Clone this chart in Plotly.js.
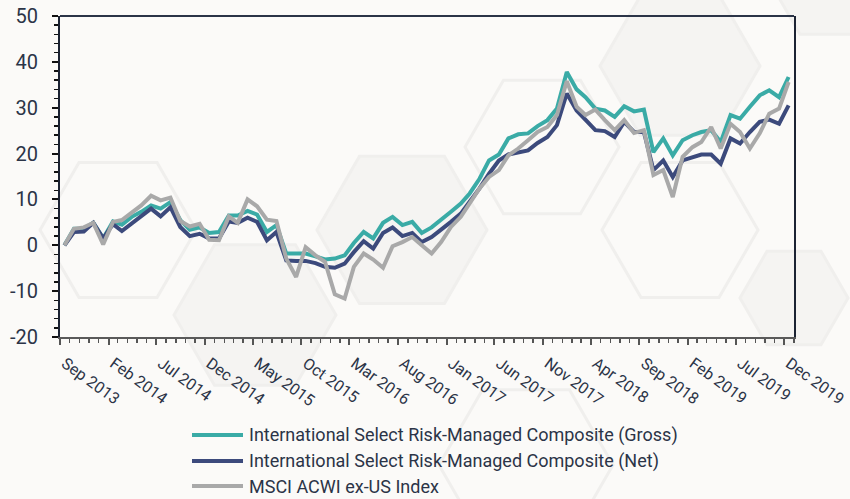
<!DOCTYPE html>
<html>
<head>
<meta charset="utf-8">
<script src="https://cdn.plot.ly/plotly-3.0.1.min.js"></script>
<style>
  html, body { margin: 0; padding: 0; background: #fbfaf8; }
  #chart { width: 850px; height: 499px; }
</style>
</head>
<body>
<div id="chart"></div>
<script>
// ---- Data (cumulative return, %) monthly Sep 2013 .. Dec 2019 ----
const startYear = 2013, startMonth = 9, nMonths = 76;
const tickLabels = ["Sep 2013","Feb 2014","Jul 2014","Dec 2014","May 2015","Oct 2015","Mar 2016","Aug 2016",
                    "Jan 2017","Jun 2017","Nov 2017","Apr 2018","Sep 2018","Feb 2019","Jul 2019","Dec 2019"];
const yTickVals = [-20, -10, 0, 10, 20, 30, 40, 50];
const yTickLabels = ["-20", "-10", "0", "10", "20", "30", "40", "50"];
const seriesNames = ["International Select Risk-Managed Composite (Gross)",
                     "International Select Risk-Managed Composite (Net)",
                     "MSCI ACWI ex-US Index"];
const gross = [0,3.6,3.6,4.9,1.5,5.2,4.5,6.2,7.3,8.7,8.0,9.4,5.5,3.4,3.9,2.7,2.9,6.5,6.5,7.5,
               6.7,2.9,4.4,-1.8,-1.8,-1.8,-2.4,-3.1,-2.9,-2.2,0.5,2.9,1.5,4.9,6.2,4.4,5.1,2.7,3.9,5.5,
               7.3,9.1,11.3,14.5,18.5,19.8,23.3,24.2,24.4,26.0,27.3,29.8,37.8,34.0,32.3,29.8,29.4,28.0,30.3,29.2,
               29.6,20.3,23.3,19.6,22.9,24.0,24.7,25.1,22.5,28.4,27.6,30.2,32.7,33.8,32.3,36.7];
const net   = [0,2.9,3.0,4.9,1.5,4.6,3.1,4.7,6.2,8.0,6.3,8.3,4.0,2.0,2.5,1.5,1.5,5.2,4.9,6.0,
               5.1,1.1,2.9,-3.3,-3.4,-3.4,-3.9,-4.7,-4.9,-4.0,-1.5,0.9,-0.7,2.7,3.9,2.0,2.7,0.7,1.8,3.3,
               5.1,6.9,9.4,12.4,15.6,18.5,19.8,20.3,20.7,22.3,23.6,26.2,33.1,29.4,27.3,25.1,24.9,23.6,26.9,24.7,
               24.7,16.4,18.5,14.9,18.5,19.3,19.8,19.8,17.8,23.3,22.2,24.7,26.9,27.4,26.5,30.5];
const msci  = [0,3.6,3.9,4.9,0.2,5.1,5.5,7.0,8.7,10.8,9.8,10.4,5.3,4.1,4.7,1.2,1.1,6.3,4.9,10.0,
               8.5,5.6,5.3,-2.9,-6.9,-0.4,-2.2,-3.6,-10.7,-11.6,-4.7,-1.8,-3.1,-4.9,-0.2,0.7,1.8,0,-1.8,0.7,
               4.0,6.2,9.1,12.4,14.9,16.4,19.6,21.1,22.9,24.7,25.8,28.4,35.8,30.2,28.4,29.6,27.3,25.1,27.3,24.5,
               25.1,15.3,16.4,10.5,19.3,21.4,22.5,25.8,21.1,26.5,24.7,21.1,24.4,28.7,29.8,35.6];
const colors = ["#3aaba6", "#3c4a7c", "#a9a9a9"];

// month dates (points sit mid-month), tick positions at month starts
function ym(i, day) {
  const m0 = startMonth - 1 + i;
  const y = startYear + Math.floor(m0 / 12);
  const m = (m0 % 12) + 1;
  return y + "-" + String(m).padStart(2, "0") + "-" + day;
}
const dates = [];
for (let i = 0; i < nMonths; i++) dates.push(ym(i, "15"));
const tickVals = tickLabels.map((_, k) => ym(k * 5, "01"));

const traces = [gross, net, msci].map((vals, k) => ({
  type: "scatter", mode: "lines", x: dates, y: vals, name: seriesNames[k],
  line: { color: colors[k], width: 4 }, showlegend: false
}));

// ---- geometry helpers (pixel -> paper) ----
const M = { l: 60, r: 56, t: 16, b: 162 };
const W = 850, H = 499;
const pw = W - M.l - M.r, ph = H - M.t - M.b;
function px2paper(x, y) { return [(x - M.l) / pw, (H - M.b - y) / ph]; }

// decorative background hexagons
function hex(cx, cy, R) {
  const h = R * Math.sqrt(3) / 2;
  const pts = [[cx - R, cy], [cx - R / 2, cy - h], [cx + R / 2, cy - h], [cx + R, cy], [cx + R / 2, cy + h], [cx - R / 2, cy + h]];
  return "M" + pts.map(p => px2paper(p[0], p[1]).map(v => v.toFixed(4)).join(",")).join("L") + "Z";
}
const hexDefs = [
  [118, 230, 78, false], [255, 315, 81, true], [402, 230, 85, true], [542, 147, 77, false],
  [680, 66, 80, true], [840, -35, 80, true], [794, 298, 54, true], [680, 230, 78, false], [526, 465, 87, false]
];
const shapes = hexDefs.map(d => ({
  type: "path", xref: "paper", yref: "paper", layer: "below", path: hex(d[0], d[1], d[2]),
  fillcolor: d[3] ? "#f5f4f2" : "rgba(0,0,0,0)", line: { color: "#f0efed", width: 3 }
}));
// top frame line
shapes.push({ type: "line", xref: "paper", yref: "paper", x0: 0, x1: 1, y0: 1, y1: 1,
              line: { color: "#2b3447", width: 2 } });

// ---- legend (drawn below the plot) ----
const legendX0 = 192, legendX1 = 243, legendTextX = 247, legendRows = [435, 461, 486];
const annotations = [];
seriesNames.forEach((name, k) => {
  const a = px2paper(legendX0, legendRows[k]);
  const b = px2paper(legendX1, legendRows[k]);
  shapes.push({ type: "line", xref: "paper", yref: "paper", x0: a[0], x1: b[0], y0: a[1], y1: b[1],
                line: { color: colors[k], width: 4 } });
  const t = px2paper(legendTextX, legendRows[k]);
  annotations.push({ xref: "paper", yref: "paper", x: t[0], y: t[1], xanchor: "left", yanchor: "middle",
                     text: name, showarrow: false, font: { size: 18, color: "#2b3447" } });
});

const layout = {
  width: W, height: H,
  margin: M,
  paper_bgcolor: "#fbfaf8", plot_bgcolor: "rgba(0,0,0,0)",
  font: { family: "Roboto, sans-serif", color: "#2b3447" },
  showlegend: false,
  xaxis: {
    type: "date", range: ["2013-09-01", "2020-01-01"], automargin: false,
    tickmode: "array", tickvals: tickVals, ticktext: tickLabels, tickangle: 36,
    tickfont: { size: 16, color: "#2b3447" }, ticklabelshift: 5, ticklabelstandoff: 3,
    ticks: "outside", ticklen: 6, tickwidth: 2, tickcolor: "#555",
    minor: { dtick: "M1", tick0: "2013-09-01", ticks: "outside", ticklen: 4, tickwidth: 1.5, tickcolor: "#555", showgrid: false },
    showline: true, linecolor: "#5a5a5a", linewidth: 2, showgrid: false, zeroline: false
  },
  yaxis: {
    range: [-20, 50], tickmode: "array", tickvals: yTickVals, ticktext: yTickLabels, automargin: false,
    tickfont: { size: 20, color: "#2b3447" }, ticklabelstandoff: 10,
    ticks: "outside", ticklen: 6, tickwidth: 2, tickcolor: "#111",
    minor: { tickmode: "linear", tick0: 0, dtick: 2, ticks: "outside", ticklen: 4, tickwidth: 1.5, tickcolor: "#111", showgrid: false },
    showline: true, linecolor: "#1c2333", linewidth: 2, mirror: true,
    showgrid: false, zeroline: false
  },
  shapes: shapes,
  annotations: annotations
};

Plotly.newPlot("chart", traces, layout, { displayModeBar: false, staticPlot: true });
</script>
</body>
</html>
